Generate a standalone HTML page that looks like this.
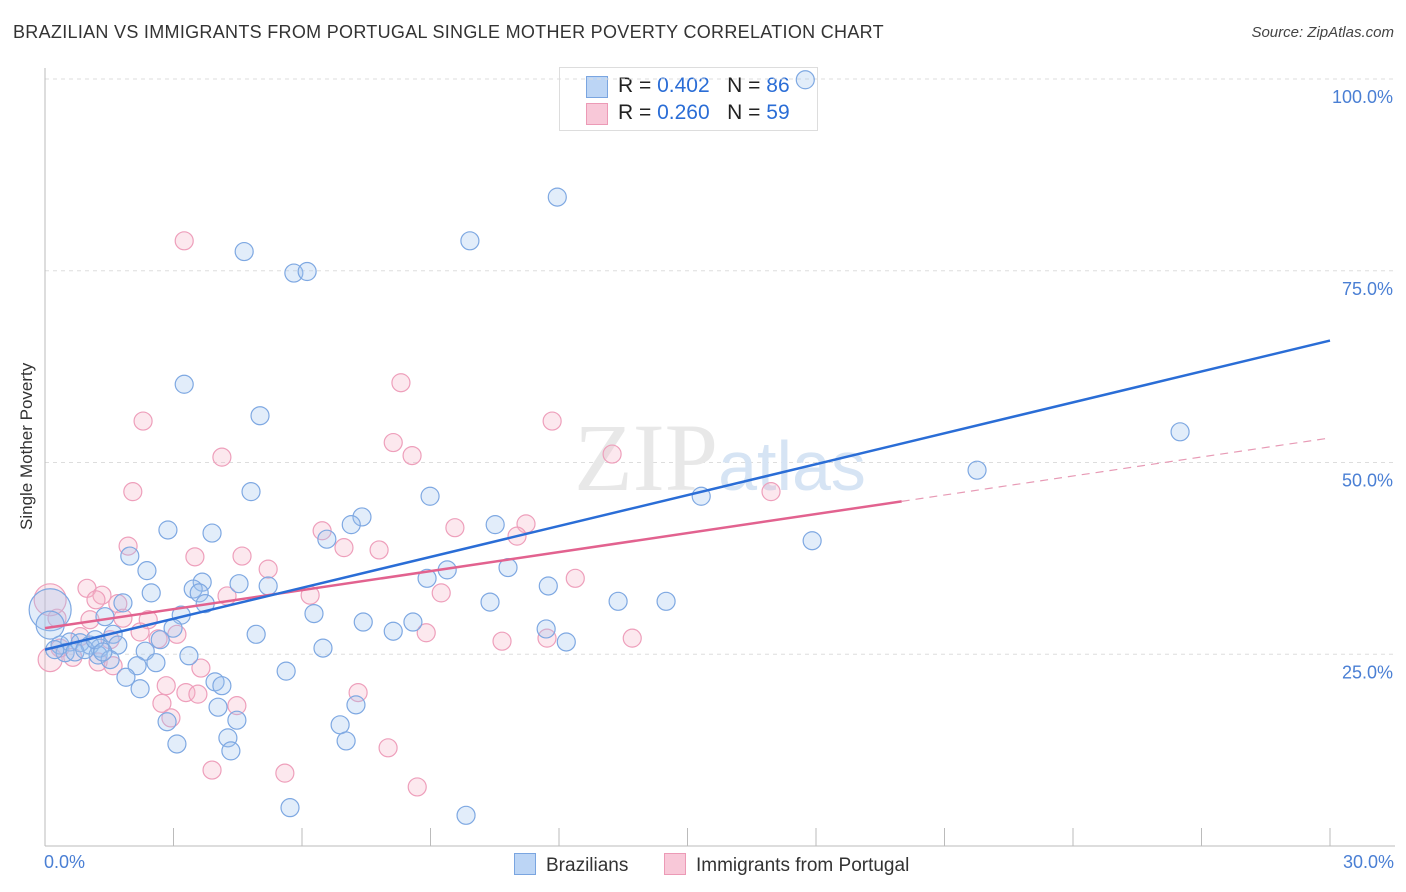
<!DOCTYPE html>
<html><head><meta charset="utf-8"><style>
body{margin:0;background:#fff;font-family:"Liberation Sans",sans-serif;}
#c{position:relative;width:1406px;height:892px;overflow:hidden}
.t{position:absolute;white-space:nowrap}
</style></head><body>
<div id="c">
<div class="t" style="left:13px;top:22px;font-size:18px;color:#333;letter-spacing:0.3px">BRAZILIAN VS IMMIGRANTS FROM PORTUGAL SINGLE MOTHER POVERTY CORRELATION CHART</div>
<div class="t" style="right:12px;top:24px;font-size:15px;color:#444;font-style:italic">Source: ZipAtlas.com</div>
<div class="t" style="left:-48px;top:445px;font-size:17px;color:#333;transform:rotate(-90deg);width:150px;text-align:center">Single Mother Poverty</div>
<div style="position:absolute;left:559px;top:67px;width:257px;height:62px;border:1px solid #ddd;background:#fff;font-size:21px;color:#222">
 <div style="position:absolute;left:26px;top:8px;width:20px;height:20px;background:#bcd5f5;border:1px solid #7aa5e0"></div>
 <div class="t" style="left:58px;top:6px">R = <span style="color:#2a6dd6">0.402</span>&nbsp;&nbsp;&nbsp;N = <span style="color:#2a6dd6">86</span></div>
 <div style="position:absolute;left:26px;top:35px;width:20px;height:20px;background:#f8c8d8;border:1px solid #ec9ab6"></div>
 <div class="t" style="left:58px;top:33px">R = <span style="color:#2a6dd6">0.260</span>&nbsp;&nbsp;&nbsp;N = <span style="color:#2a6dd6">59</span></div>
</div>
<svg id="s" width="1406" height="892" style="position:absolute;left:0;top:0"></svg>
</div>
<script>
const blueX=[17.75,11.96,9.92,4.65,5.81,6.12,3.25,5.02,26.5,21.76,4.81,8.99,15.32,7.40,10.51,7.15,2.87,3.90,6.58,17.91,1.98,2.38,9.39,10.81,8.92,4.53,5.21,3.67,3.46,11.75,2.48,3.60,3.74,1.82,10.39,13.38,14.50,3.18,1.40,6.28,8.59,7.43,8.13,2.99,1.59,11.70,4.93,12.17,2.69,1.70,6.49,2.34,0.35,0.58,0.82,1.05,1.28,0.47,0.70,1.24,3.36,1.52,2.15,2.59,5.63,1.89,3.97,4.13,2.22,4.04,7.26,2.85,4.48,6.89,4.27,3.08,7.03,4.34,5.72,9.83,0.12,0.12,0.23,0.93,1.17,1.35];
const blueY=[99.9,84.6,78.9,77.5,74.7,74.9,60.2,56.1,54.0,49.0,46.2,45.6,45.6,42.9,41.9,41.9,41.2,40.8,40.0,39.8,37.8,35.9,36.0,36.3,34.9,34.2,33.9,34.4,33.5,33.9,33.0,33.0,31.6,31.7,31.8,31.9,31.9,30.1,29.9,30.3,29.2,29.2,28.0,28.4,27.6,28.3,27.6,26.6,26.9,26.2,25.8,25.4,26.2,26.6,26.5,26.2,25.8,25.2,25.3,24.9,24.8,24.3,23.5,23.9,22.8,22.0,21.4,20.9,20.5,18.1,18.4,16.2,16.4,15.8,14.1,13.3,13.7,12.4,5.0,4.0,30.8,28.8,25.6,25.6,26.9,25.3];
const blueR=[];for(let i=0;i<blueX.length;i++)blueR.push(9);blueR[80]=21;blueR[81]=14;
const pinkX=[3.25,8.31,2.29,11.84,8.13,4.13,8.57,13.24,2.05,16.95,11.23,9.57,6.47,11.02,1.94,6.98,7.80,4.60,3.50,5.21,12.38,0.98,1.33,1.19,1.70,4.25,6.19,9.25,2.41,1.82,1.05,0.28,3.08,2.22,2.64,8.90,13.71,10.67,11.72,0.82,1.52,0.35,0.65,0.12,1.24,1.59,3.64,2.83,3.29,3.57,7.31,2.73,4.48,2.94,8.01,3.90,5.60,8.69,0.12];
const pinkY=[78.9,60.4,55.4,55.4,52.6,50.7,50.9,51.1,46.2,46.2,42.0,41.5,41.1,40.4,39.1,38.9,38.6,37.8,37.7,36.1,34.9,33.6,32.7,32.1,31.6,32.6,32.7,33.0,29.5,29.7,29.5,29.7,27.6,27.9,27.0,27.8,27.1,26.7,27.1,27.3,26.9,25.8,24.6,24.3,24.0,23.5,23.2,20.9,20.0,19.8,20.0,18.6,18.3,16.7,12.8,9.9,9.5,7.7,32.1];
const pinkR=[];for(let i=0;i<pinkX.length;i++)pinkR.push(9);pinkR[43]=12;pinkR[58]=16;
const blueTrend=[25.6,65.9];const pinkTrend=[28.4,53.2];const pinkSolidEnd=20.0;
const yTicks=[25,50,75,100];const yTickLabels=["25.0%","50.0%","75.0%","100.0%"];
const xTicks=[0,3,6,9,12,15,18,21,24,27,30];
const X=v=>45+v/30*1285, Y=v=>846-v/100*767;
const s=document.getElementById('s');const NS='http://www.w3.org/2000/svg';
function el(t,a,p){const e=document.createElementNS(NS,t);for(const k in a)e.setAttribute(k,a[k]);(p||s).appendChild(e);return e;}
for(let i=0;i<yTicks.length;i++){
 const g=el('line',{x1:45,x2:1395,y1:Y(yTicks[i]),y2:Y(yTicks[i]),stroke:'#ddd','stroke-dasharray':'4,4'});
 
 const t=el('text',{x:1393,y:Y(yTicks[i])+24,'text-anchor':'end','font-size':18,fill:'#4a7fd4','font-family':'Liberation Sans'});t.textContent=yTickLabels[i];
 
}
const ax=el('line',{x1:45,x2:45,y1:68,y2:846,stroke:'#bbb'});
const bx=el('line',{x1:45,x2:1395,y1:846,y2:846,stroke:'#bbb'});
xTicks.forEach(v=>{const l=el('line',{x1:X(v),x2:X(v),y1:828,y2:846,stroke:'#bbb'});});
const wm=el('text',{x:720,y:490,'text-anchor':'middle','font-size':96,fill:'#e8e8e8','font-family':'Liberation Serif'});wm.innerHTML='ZIP<tspan font-family="Liberation Sans" font-size="70" fill="#d6e4f4">atlas</tspan>';

for(let i=0;i<pinkX.length;i++){const c=el('circle',{cx:X(pinkX[i]),cy:Y(pinkY[i]),r:pinkR[i],fill:'rgba(246,178,200,0.3)',stroke:'#ee9fbb','stroke-width':1.2});
}
for(let i=0;i<blueX.length;i++){const c=el('circle',{cx:X(blueX[i]),cy:Y(blueY[i]),r:blueR[i],fill:'rgba(160,196,240,0.3)',stroke:'#7ea8e2','stroke-width':1.2});
}
const py=v=>pinkTrend[0]+(pinkTrend[1]-pinkTrend[0])*v/30;
const pl=el('line',{x1:X(0),y1:Y(pinkTrend[0]),x2:X(pinkSolidEnd),y2:Y(py(pinkSolidEnd)),stroke:'#e2628f','stroke-width':2.5});

const pd=el('line',{x1:X(pinkSolidEnd),y1:Y(py(pinkSolidEnd)),x2:X(30),y2:Y(pinkTrend[1]),stroke:'#e79ab5','stroke-width':1.2,'stroke-dasharray':'8,6'});

const bl=el('line',{x1:X(0),y1:Y(blueTrend[0]),x2:X(30),y2:Y(blueTrend[1]),stroke:'#2a6dd6','stroke-width':2.5});

</script>
<div class="t" style="left:44px;top:852px;font-size:18px;color:#4a7fd4">0.0%</div>
<div class="t" style="right:12px;top:852px;font-size:18px;color:#4a7fd4">30.0%</div>
<div style="position:absolute;left:514px;top:853px;font-size:19px;color:#333">
 <span style="display:inline-block;width:20px;height:20px;background:#bcd5f5;border:1px solid #7aa5e0;vertical-align:-4px;margin-right:10px"></span>Brazilians</div>
<div style="position:absolute;left:664px;top:853px;font-size:19px;color:#333">
 <span style="display:inline-block;width:20px;height:20px;background:#f8c8d8;border:1px solid #ec9ab6;vertical-align:-4px;margin-right:10px"></span>Immigrants from Portugal</div>
</body></html>
